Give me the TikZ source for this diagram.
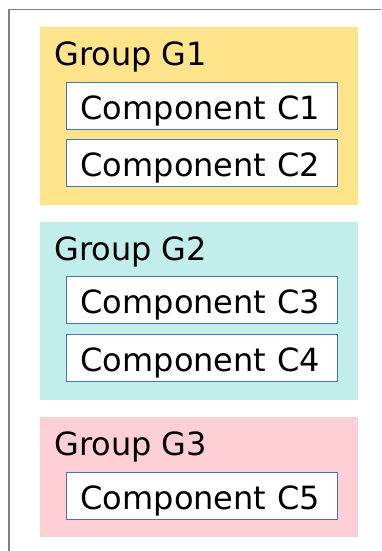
\documentclass[tikz,border=0pt]{standalone}
\usepackage{fontspec}
\setmainfont{DejaVu Sans}
\usepackage{tikz}
\usetikzlibrary{positioning, calc}
\definecolor{giallo}{RGB}{255,228,140}
\definecolor{verdeacqua}{RGB}{193,238,234}
\definecolor{rosa}{RGB}{255,207,214}
\definecolor{bordoblu}{RGB}{68,114,196}
\tikzset{
    gruppo/.style = {anchor = north west, inner sep = 0pt, minimum width = 318pt},
    etichetta/.style = {anchor = base west, inner sep = 0pt},
    componente/.style = {draw = bordoblu, line width = 1.2pt, fill = white, anchor = north west,
        text width = 243pt, align = left, inner xsep = 14pt, inner ysep = 10pt,
        text height = 27pt, text depth = 0pt, minimum height = 47pt}
}

\begin{document}
\begin{tikzpicture}[x = 1pt, y = -1pt, font = \fontsize{32}{38}\selectfont]
    % Parametri
    \pgfmathsetmacro{\gx}{40}
    \pgfmathsetmacro{\cx}{26}
    \useasboundingbox (0,0) rectangle (381,551);
    % Cornice
    \draw[gray, line width = 1.4pt] (9,551) -- (9,9.5) -- (381,9.5);
    % Gruppi
    \node[gruppo, fill = giallo, minimum height = 178pt] (g1) at (\gx,27) {};
    \node[gruppo, fill = verdeacqua, minimum height = 178pt] (g2) at (\gx,222) {};
    \node[gruppo, fill = rosa, minimum height = 120pt] (g3) at (\gx,417) {};
    \foreach \g in {1,2,3}{
        \node[etichetta] (lab\g) at ($(g\g.north west) + (14,38)$) {Group G\g};
    }
    % Componenti
    \node[componente] (c1) at ($(g1.north west) + (\cx,55)$) {Component C1};
    \node[componente, below = 9pt of c1] (c2) {Component C2};
    \node[componente] (c3) at ($(g2.north west) + (\cx,54)$) {Component C3};
    \node[componente, below = 10pt of c3] (c4) {Component C4};
    \node[componente] (c5) at ($(g3.north west) + (\cx,55)$) {Component C5};
\end{tikzpicture}
\end{document}
